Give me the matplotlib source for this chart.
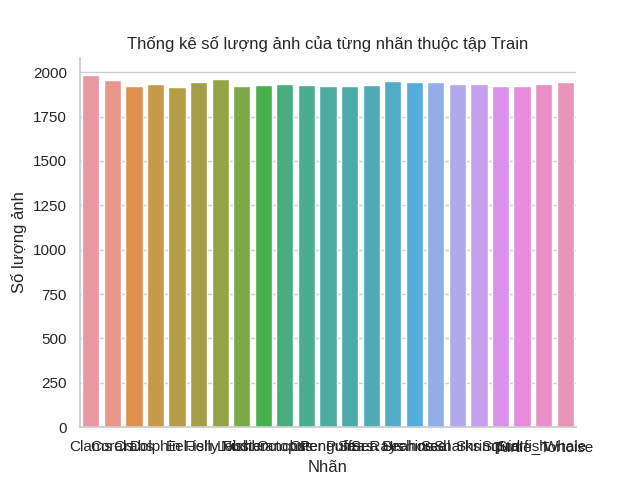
import matplotlib
matplotlib.use('Agg')
import matplotlib.pyplot as plt
import seaborn as sns
import pandas as pd

# so luong anh moi nhan (doc tu hinh)
labels = ['Clams', 'Corals', 'Crabs', 'Dolphin', 'Eel', 'Fish', 'Jelly Fish',
          'Lobster', 'Nudibranchs', 'Octopus', 'Otter', 'Penguin', 'Puffers',
          'Sea Rays', 'Sea Urchins', 'Seahorse', 'Seal', 'Sharks', 'Shrimp',
          'Squid', 'Starfish', 'Turtle_Tortoise', 'Whale']
counts = [1983, 1955, 1923, 1932, 1915, 1944, 1960,
          1923, 1928, 1934, 1928, 1921, 1921,
          1927, 1949, 1944, 1942, 1932, 1932,
          1921, 1921, 1932, 1944]

sns.set_theme(style='whitegrid')
plt.rcParams['font.family'] = ['Liberation Sans', 'DejaVu Sans']

df = pd.DataFrame({'Nhãn': labels, 'Số lượng ảnh': counts})

# bang mau husl sang hon (giong seaborn cu)
pal = sns.husl_palette(len(labels), l=.7)

fig, ax = plt.subplots(figsize=(6.4, 4.8), dpi=100)
sns.barplot(data=df, x='Nhãn', y='Số lượng ảnh', hue='Nhãn',
            palette=pal, legend=False, ax=ax)
sns.despine()
ax.set_title('Thống kê số lượng ảnh của từng nhãn thuộc tập Train')

fig.savefig('out.png')
